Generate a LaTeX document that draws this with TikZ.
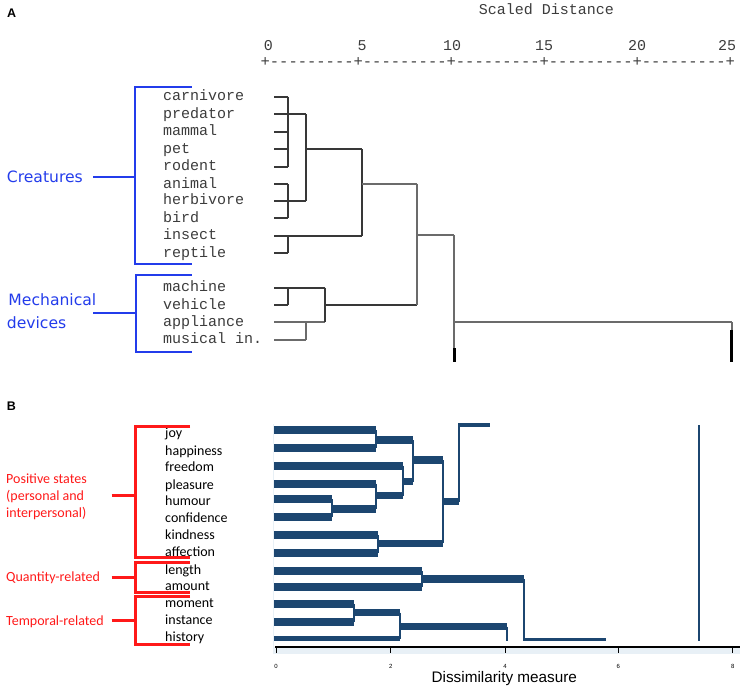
\documentclass[tikz,border=0pt]{standalone}
\usepackage{fontspec}
\setmainfont{Carlito}
\newfontfamily\monof{Liberation Mono}
\newfontfamily\dejaf{DejaVu Sans}
\newfontfamily\arialf{Liberation Sans}
\definecolor{abl}{RGB}{35,60,235}
\definecolor{bred}{RGB}{255,25,25}
\definecolor{bbar}{RGB}{28,70,112}
\definecolor{dgr}{RGB}{60,60,60}
\definecolor{pale}{RGB}{232,240,246}
\newcommand\mybar[4]{\fill[bbar] (#1,#3-#4/2) rectangle (#2,#3+#4/2);}
\begin{document}
\begin{tikzpicture}[x=1pt,y=-1pt,
  lblA/.style={anchor=base west, inner sep=0, font=\monof\fontsize{15}{17}\selectfont, text=dgr},
  numA/.style={anchor=base, inner sep=0, font=\monof\fontsize{15}{17}\selectfont, text=dgr},
  lblB/.style={anchor=base west, inner sep=0, font=\fontsize{14}{16}\selectfont},
  grpA/.style={anchor=west, inner sep=0, text=abl, font=\dejaf\fontsize{15.6}{18}\selectfont},
  grpB/.style={anchor=base west, inner sep=0, text=bred, font=\fontsize{14}{16}\selectfont},
  panel/.style={anchor=center, inner sep=0, font=\arialf\bfseries\fontsize{12.5}{14}\selectfont},
  dl/.style={line width=1.8pt, draw=black!78},
  dg/.style={line width=1.8pt, draw=black!58},
  dk/.style={line width=3pt, draw=black},
  bl/.style={line width=1.8pt, draw=abl},
  rl/.style={line width=3pt, draw=bred},
  vl/.style={line width=2pt, draw=bbar},
  tk/.style={anchor=base, inner sep=0, font=\arialf\fontsize{6}{7}\selectfont}
]
\useasboundingbox (0,0) rectangle (744,691);

% ---------------- Panel A ----------------
\node[panel] (pA) at (11.7,13.3) {A};
\node[numA] (title) at (546.5,14.5) {Scaled Distance};
\foreach \v/\x in {0/268.3,5/362,10/452,15/544,20/637,25/727}
  \node[numA] (n\v) at (\x,50) {\v};
\node[anchor=base west, inner sep=0, font=\monof\fontsize{15.5}{17}\selectfont, text=dgr] (axisA) at (260.4,66.8) {+---------+---------+---------+---------+---------+};

\foreach \n/\y in {carnivore/96.7,predator/114,mammal/131.7,pet/149,rodent/166.7,animal/184,herbivore/200.7,bird/218,insect/235.7,reptile/253,machine/287.7,vehicle/305,appliance/322.3}
  \node[lblA] (\n) at (163,\y+4) {\n};
\node[lblA] (musical) at (163,339.7+4) {musical in.};

% leaf ticks
\foreach \y in {96.7,131.7,149,166.7,184,218,253,305}
  \draw[dl] (274,\y) -- (288,\y);
\draw[dl] (274,114) -- (306,114);
\draw[dl] (274,200.7) -- (306,200.7);
\draw[dl] (274,235.7) -- (361.7,235.7);
\draw[dl] (274,287.7) -- (324.7,287.7);
\draw[dg] (274,322.3) -- (324.7,322.3);
\draw[dg] (274,339.7) -- (306,339.7);
% verticals
\draw[dl] (288,96.7) -- (288,166.7);
\draw[dl] (288,184) -- (288,218);
\draw[dl] (288,235.7) -- (288,253);
\draw[dl] (288,287.7) -- (288,305);
\draw[dl] (306,114) -- (306,200.7);
\draw[dg] (306,322.3) -- (306,339.7);
\draw[dl] (306,149.3) -- (361.7,149.3);
\draw[dl] (361.7,149.3) -- (361.7,235.7);
\draw[dg] (361.7,183.7) -- (416.7,183.7);
\draw[dl] (324.7,287.7) -- (324.7,322.3);
\draw[dl] (324.7,305) -- (416.7,305);
\draw[dg] (416.7,183.7) -- (416.7,305);
\draw[dg] (416.7,235.3) -- (454,235.3);
\draw[dg] (454,235.3) -- (454,348);
\draw[dk] (454,348) -- (454,361.7);
\draw[dg] (454,322.3) -- (731.7,322.3);
\draw[dg] (731.7,322.3) -- (731.7,330);
\draw[dk] (731.7,330) -- (731.7,361.7);

% blue brackets
\draw[bl] (191.7,87.3) -- (135,87.3) -- (135,264.3) -- (191.7,264.3);
\draw[bl] (93.3,176.7) -- (135,176.7);
\draw[bl] (191.7,275) -- (136,275) -- (136,351.7) -- (191.7,351.7);
\draw[bl] (93.3,313.3) -- (136,313.3);
\node[grpA] (creat) at (6.7,176.7) {Creatures};
\node[grpA] (mech1) at (8.3,300) {Mechanical};
\node[grpA] (mech2) at (6.7,322.3) {devices};

% ---------------- Panel B ----------------
\node[panel] (pB) at (11.5,406) {B};
\foreach \n/\y in {joy/433.3,happiness/451,freedom/467.7,pleasure/485,humour/501.7,confidence/518.7,kindness/535.7,affection/552.7,length/570,amount/586.7,moment/603.7,instance/620.7,history/637.3}
  \node[lblB] (\n) at (165,\y+4) {\n};

\draw[rl] (190,426) -- (135,426) -- (135,557.7) -- (190,557.7);
\draw[rl] (111.7,495.3) -- (135,495.3);
\draw[rl] (190,562.3) -- (135,562.3) -- (135,592.7) -- (190,592.7);
\draw[rl] (111.7,577.3) -- (135,577.3);
\draw[rl] (190,596.7) -- (135,596.7) -- (135,644) -- (190,644);
\draw[rl] (111.7,620.7) -- (135,620.7);
\node[grpB] (pos1) at (6,479.3+4.5) {Positive states};
\node[grpB] (pos2) at (6,496+4.5) {(personal and};
\node[grpB] (pos3) at (6,512.7+4.5) {interpersonal)};
\node[grpB] (quant) at (6,576.7+4.5) {Quantity-related};
\node[grpB] (temp) at (6,621+4.5) {Temporal-related};

% pale plot frame
\fill[pale] (273,647) rectangle (740,654);
\draw[pale, line width=1pt] (273.3,424) -- (273.3,647);

% leaf bars
\mybar{273.5}{376}{430}{8}
\mybar{273.5}{376}{448.3}{8}
\mybar{273.5}{403.3}{465.7}{8}
\mybar{273.5}{376}{483.7}{8}
\mybar{273.5}{331.7}{499.3}{8}
\mybar{273.5}{331.7}{517.3}{8}
\mybar{273.5}{378.3}{535}{8}
\mybar{273.5}{378.3}{553.3}{8}
\mybar{273.5}{422.3}{571}{8}
\mybar{273.5}{422.3}{586.7}{8}
\mybar{273.5}{354.3}{604.3}{8}
\mybar{273.5}{354.3}{622.3}{8}
\mybar{273.5}{400}{638.5}{5.5}
% merged bars
\mybar{376}{412.7}{440}{7.5}
\mybar{331.7}{376}{509}{7.5}
\mybar{376}{403.3}{495.7}{7.5}
\mybar{403.3}{412.7}{481.7}{7.5}
\mybar{412.7}{442.7}{460}{7.5}
\mybar{378.3}{442.7}{543.3}{7.5}
\mybar{442.7}{459.3}{501.7}{7.5}
\mybar{459.3}{490}{425}{3.6}
\mybar{422.3}{524.3}{579}{7.5}
\mybar{354.3}{400}{612.7}{7.5}
\mybar{400}{506.7}{626.7}{7.5}
\mybar{524.3}{605.7}{639.3}{3.6}
% verticals
\draw[vl] (376,430) -- (376,448.3);
\draw[vl] (376,483.7) -- (376,509);
\draw[vl] (331.7,499.3) -- (331.7,517.3);
\draw[vl] (403.3,465.7) -- (403.3,495.7);
\draw[vl] (412.7,440) -- (412.7,481.7);
\draw[vl] (378.3,535) -- (378.3,553.3);
\draw[vl] (442.7,460) -- (442.7,543.3);
\draw[vl] (459.3,423.2) -- (459.3,501.7);
\draw[vl] (422.3,571) -- (422.3,586.7);
\draw[vl] (354.3,604.3) -- (354.3,622.3);
\draw[vl] (400,612.7) -- (400,639);
\draw[vl] (506.7,626.7) -- (506.7,641);
\draw[vl] (524.3,579) -- (524.3,641);
\draw[vl] (699.3,425) -- (699.3,641);

% axis
\draw[line width=2.2pt] (275,646.7) -- (740,646.7);
\foreach \v/\x in {0/276,2/390.7,4/505,6/618.3,8/732.7} {
  \draw[line width=1pt] (\x,646.7) -- (\x,652.5);
  \node[tk] (t\v) at (\x,668) {\v};
}
\node[anchor=center, inner sep=0, font=\arialf\fontsize{15.3}{17}\selectfont] (xlab) at (504.3,678.3) {Dissimilarity measure};
\end{tikzpicture}
\end{document}
